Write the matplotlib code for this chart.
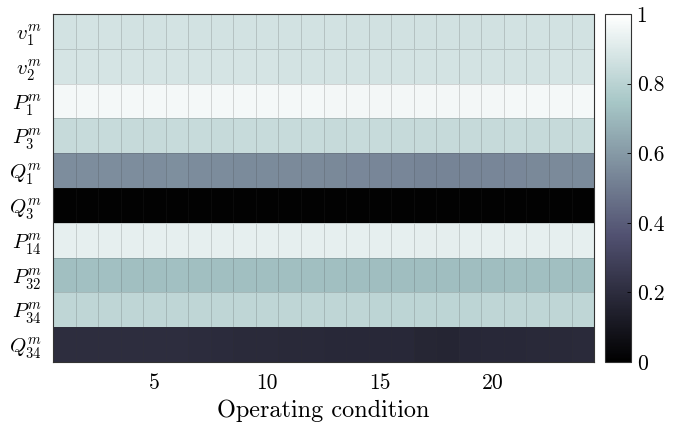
import numpy as np
import matplotlib
matplotlib.use("Agg")
import matplotlib.pyplot as plt

plt.rcParams['font.family'] = 'serif'
plt.rcParams['font.serif'] = ['cmr10']
plt.rcParams['mathtext.fontset'] = 'cm'
plt.rcParams['axes.formatter.use_mathtext'] = True

row_labels = [r'$v_1^m$', r'$v_2^m$', r'$P_1^m$', r'$P_3^m$', r'$Q_1^m$',
              r'$Q_3^m$', r'$P_{14}^m$', r'$P_{32}^m$', r'$P_{34}^m$', r'$Q_{34}^m$']

v1 = [0.870, 0.872, 0.872, 0.871, 0.871, 0.872, 0.870, 0.870, 0.869, 0.869, 0.868, 0.868,
      0.868, 0.867, 0.867, 0.866, 0.866, 0.866, 0.867, 0.867, 0.868, 0.868, 0.869, 0.869]
v2 = [0.876, 0.877, 0.877, 0.876, 0.876, 0.877, 0.876, 0.875, 0.875, 0.875, 0.874, 0.874,
      0.874, 0.873, 0.873, 0.872, 0.872, 0.872, 0.873, 0.873, 0.874, 0.874, 0.875, 0.875]
P1 = [0.966, 0.967, 0.967, 0.967, 0.966, 0.967, 0.966, 0.966, 0.965, 0.965, 0.965, 0.965,
      0.964, 0.964, 0.964, 0.964, 0.963, 0.963, 0.964, 0.964, 0.965, 0.965, 0.965, 0.966]
P3 = [0.835, 0.836, 0.836, 0.835, 0.835, 0.836, 0.836, 0.835, 0.836, 0.836, 0.837, 0.838,
      0.835, 0.836, 0.836, 0.834, 0.834, 0.834, 0.835, 0.835, 0.836, 0.835, 0.835, 0.836]
Q1 = [0.560, 0.562, 0.562, 0.561, 0.561, 0.566, 0.556, 0.555, 0.554, 0.552, 0.550, 0.548,
      0.546, 0.540, 0.539, 0.538, 0.530, 0.528, 0.532, 0.538, 0.542, 0.546, 0.550, 0.552]
Q3 = [0.010] * 24
P14 = [0.928, 0.929, 0.929, 0.929, 0.928, 0.929, 0.929, 0.928, 0.928, 0.928, 0.927, 0.927,
       0.927, 0.926, 0.926, 0.926, 0.925, 0.925, 0.926, 0.926, 0.927, 0.927, 0.928, 0.928]
P32 = [0.722, 0.723, 0.723, 0.722, 0.722, 0.723, 0.722, 0.721, 0.721, 0.720, 0.720, 0.719,
       0.719, 0.718, 0.718, 0.717, 0.717, 0.717, 0.718, 0.718, 0.719, 0.719, 0.720, 0.721]
P34 = [0.815, 0.816, 0.816, 0.815, 0.815, 0.816, 0.815, 0.815, 0.814, 0.814, 0.814, 0.813,
       0.813, 0.813, 0.812, 0.812, 0.812, 0.812, 0.812, 0.813, 0.813, 0.814, 0.814, 0.815]
Q34 = [0.200, 0.201, 0.201, 0.200, 0.200, 0.202, 0.198, 0.192, 0.190, 0.188, 0.186, 0.184,
       0.183, 0.182, 0.182, 0.183, 0.168, 0.166, 0.176, 0.180, 0.182, 0.184, 0.186, 0.188]

data = np.array([v1, v2, P1, P3, Q1, Q3, P14, P32, P34, Q34])
n_rows, n_cols = data.shape
x_edges = np.arange(n_cols + 1) + 0.5
y_edges = np.arange(n_rows + 1) + 0.5

fig = plt.figure(figsize=(6.86, 4.26), dpi=100)
ax = fig.add_axes([0.0773, 0.150, 0.7887, 0.817])
mesh = ax.pcolormesh(x_edges, y_edges, data, cmap='bone', vmin=0, vmax=1,
                     edgecolors=(0.2, 0.2, 0.2, 0.18), linewidth=0.6)
ax.set_xlim(0.5, n_cols + 0.5)
ax.set_ylim(n_rows + 0.5, 0.5)
ax.set_xticks([5, 10, 15, 20])
ax.set_xticklabels(['5', '10', '15', '20'], fontsize=15.5)
ax.set_yticks(np.arange(1, n_rows + 1))
ax.set_yticklabels(row_labels, fontsize=15)
ax.tick_params(axis='x', length=0, pad=8)
ax.tick_params(axis='y', length=0, pad=8)
ax.set_xlabel('Operating condition', fontsize=17.5, labelpad=5)
for s in ax.spines.values():
    s.set_linewidth(0.8)
    s.set_color('#333333')

cax = fig.add_axes([0.882, 0.150, 0.038, 0.817])
cb = fig.colorbar(mesh, cax=cax)
cb.set_ticks([0, 0.2, 0.4, 0.6, 0.8, 1])
cb.set_ticklabels(['0', '0.2', '0.4', '0.6', '0.8', '1'])
cb.ax.tick_params(labelsize=15.5, direction='in', length=3, width=0.6, pad=4)
cb.outline.set_linewidth(0.8)
cb.outline.set_edgecolor('#333333')

fig.savefig('out.png', dpi=100)
